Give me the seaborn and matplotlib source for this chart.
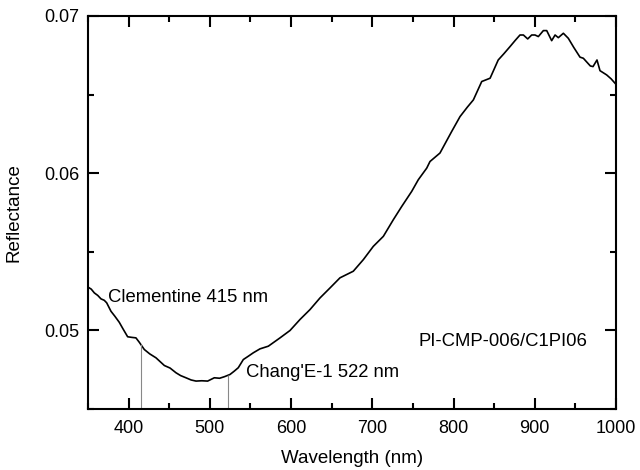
import numpy as np
import pandas as pd
import matplotlib
matplotlib.use("Agg")
import matplotlib.pyplot as plt
import seaborn as sns
from matplotlib.ticker import MultipleLocator, FormatStrFormatter

# spectrum
wavelength = [350, 354, 357.8, 362, 366, 370, 373, 378.3, 383, 388.5, 393,
              398.8, 404, 409, 413, 419.3, 426, 433.7, 444, 451, 458.3, 464,
              470.6, 477, 483, 490, 497.3, 505.5, 512, 518, 524.8, 530, 535,
              541.2, 547.3, 553.5, 561.7, 572, 586.4, 598.7, 611, 623.3, 635.6,
              648, 660.2, 676.6, 689, 701.2, 713.6, 725.9, 736.2, 748.5, 756.6,
              767, 771, 783.3, 797.7, 808, 817, 824.4, 834.7, 845, 855, 862,
              869.5, 876, 881.8, 886, 891.3, 896.2, 900.3, 904.4, 910.6, 914.7,
              920.8, 925, 929, 935.2, 941.3, 948, 955.7, 959.8, 968.4, 971.7,
              976.6, 980.3, 988.5, 994, 1000]
reflectance = [0.05275, 0.05262, 0.05238, 0.05222, 0.05200, 0.05191, 0.05175,
               0.05121, 0.05090, 0.05051, 0.05010, 0.04959, 0.04955, 0.04952,
               0.04925, 0.04878, 0.04850, 0.04825, 0.04776, 0.04760, 0.04730,
               0.04712, 0.04698, 0.04684, 0.04677, 0.04679, 0.04677, 0.04698,
               0.04695, 0.04705, 0.04719, 0.04740, 0.04762, 0.04814, 0.04835,
               0.04857, 0.04882, 0.04899, 0.04952, 0.04999, 0.05069, 0.05132,
               0.05206, 0.05270, 0.05334, 0.05376, 0.05450, 0.05534, 0.05598,
               0.05704, 0.05788, 0.05884, 0.05958, 0.06032, 0.06074, 0.06128,
               0.06265, 0.06360, 0.06420, 0.06466, 0.06583, 0.06604, 0.06720,
               0.06760, 0.06805, 0.06845, 0.06879, 0.06879, 0.06854, 0.06879,
               0.06879, 0.06869, 0.06907, 0.06907, 0.06843, 0.06879, 0.06862,
               0.06890, 0.06858, 0.06800, 0.06738, 0.06731, 0.06682, 0.06678,
               0.06720, 0.06652, 0.06625, 0.06600, 0.06565]

band_wl = [415, 522]
band_labels = ["Clementine 415 nm", "Chang'E-1 522 nm"]
sample_name = "PI-CMP-006/C1PI06"

df = pd.DataFrame({"Wavelength": wavelength, "Reflectance": reflectance})

sns.set_style("ticks")
plt.rcParams["font.family"] = ["Liberation Sans", "DejaVu Sans"]
plt.rcParams["text.color"] = "black"
plt.rcParams["axes.labelcolor"] = "black"
plt.rcParams["xtick.color"] = "black"
plt.rcParams["ytick.color"] = "black"
plt.rcParams["axes.edgecolor"] = "black"

fig = plt.figure(figsize=(6.4, 4.7), dpi=100)
ax = fig.add_axes([0.1375, 0.130, 0.825, 0.836])

sns.lineplot(data=df, x="Wavelength", y="Reflectance", color="black",
             linewidth=1.2, ax=ax)

ymin = 0.045
tops = np.interp(band_wl, wavelength, reflectance)
ax.vlines(band_wl, ymin, tops, colors="#888888", linewidth=0.8)

fs = 13.3
ax.text(374.5, 0.0521, band_labels[0], fontsize=fs, va="center", ha="left")
ax.text(544.5, 0.04734, band_labels[1], fontsize=fs, va="center", ha="left")
ax.text(756.5, 0.04931, sample_name, fontsize=fs, va="center", ha="left")

ax.set_xlim(350, 1000)
ax.set_ylim(ymin, 0.07)
ax.xaxis.set_major_locator(MultipleLocator(100))
ax.xaxis.set_minor_locator(MultipleLocator(50))
ax.yaxis.set_major_locator(MultipleLocator(0.01))
ax.yaxis.set_minor_locator(MultipleLocator(0.005))
ax.yaxis.set_major_formatter(FormatStrFormatter("%.2f"))

ax.tick_params(which="both", direction="in", top=True, right=True,
               labelsize=13, width=1.5, pad=6)
ax.tick_params(axis="x", which="both", pad=8)
ax.tick_params(which="major", length=8)
ax.tick_params(which="minor", length=4.5)
for s in ax.spines.values():
    s.set_linewidth(1.5)
    s.set_visible(True)

ax.set_xlabel("Wavelength (nm)", fontsize=13.5, labelpad=9)
ax.set_ylabel("Reflectance", fontsize=13.5, labelpad=16)

fig.savefig("out.png", dpi=100)
